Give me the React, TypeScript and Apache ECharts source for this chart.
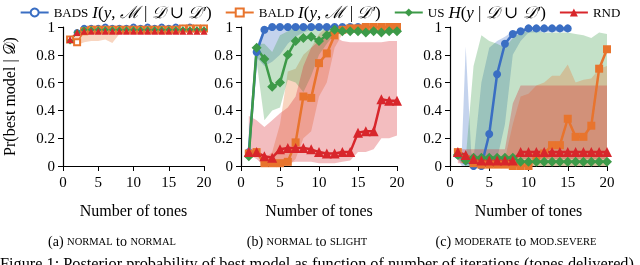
import React, { useEffect, useRef } from 'react';
import * as echarts from 'echarts';

const tones = [1, 2, 3, 4, 5, 6, 7, 8, 9, 10, 11, 12, 13, 14, 15, 16, 17, 18, 19, 20];
const xTicks = [0, 5, 10, 15, 20];
const yTicks = [0, 0.2, 0.4, 0.6, 0.8, 1];

// (a) NORMAL to NORMAL
const aBads = [0.91, 0.96, 0.99, 0.99, 0.99, 1.0, 0.99, 0.99, 0.99, 1.0, 0.99, 1.0, 0.99, 1.0, 0.99, 1.0, 0.99, 1.0, 0.99, 0.99];
const aBald = [0.91, 0.89, 0.97, 0.98, 0.98, 0.98, 0.98, 0.98, 0.98, 0.98, 0.98, 0.98, 0.98, 0.98, 0.98, 0.98, 0.99, 0.99, 0.99, 0.99];
const aUs = [0.9, 0.96, 0.98, 0.98, 0.98, 0.98, 0.98, 0.98, 0.98, 0.98, 0.98, 0.98, 0.98, 0.98, 0.98, 0.98, 0.98, 0.98, 0.98, 0.98];
const aRnd = [0.91, 0.96, 0.97, 0.97, 0.97, 0.97, 0.97, 0.97, 0.97, 0.97, 0.97, 0.97, 0.97, 0.97, 0.97, 0.97, 0.97, 0.97, 0.97, 0.97];
const aBaldBand = [[1, 0.9, 0.93], [2, 0.87, 0.97], [3, 0.89, 1.0], [4, 0.9, 1.0], [5, 0.9, 1.0], [6, 0.91, 1.0], [7, 0.885, 1.0], [8, 0.95, 1.0], [9, 0.97, 1.0], [20, 0.98, 1.0]];

// (b) NORMAL to SLIGHT
const bBads = [0.1, 0.82, 0.98, 1.0, 1.0, 1.0, 1.0, 1.0, 1.0, 1.0, 1.0, 1.0, 1.0, 1.0, 1.0];
const bBald = [0.09, 0.1, 0.02, 0.02, 0.02, 0.03, 0.17, 0.5, 0.49, 0.74, 0.81, 0.94, 0.98, 0.99, 0.99, 1.0, 1.0, 1.0, 1.0, 1.0];
const bUs = [0.07, 0.85, 0.77, 0.57, 0.6, 0.8, 0.9, 0.92, 0.93, 0.9, 0.94, 0.98, 0.97, 0.97, 0.97, 0.96, 0.97, 0.96, 0.97, 0.97];
const bRnd = [0.1, 0.1, 0.07, 0.06, 0.12, 0.13, 0.13, 0.13, 0.12, 0.1, 0.09, 0.09, 0.1, 0.1, 0.24, 0.25, 0.25, 0.48, 0.47, 0.47];
const bBadsBand = [[2, 0.78, 0.86], [3, 0.72, 1.0], [4, 0.75, 1.0], [5, 0.8, 1.0], [6, 0.88, 1.0], [7, 0.93, 1.0], [8, 0.96, 1.0], [9, 0.98, 1.0], [10, 0.99, 1.0]];
const bBaldBand = [[1, 0.08, 0.11], [2, 0.08, 0.11], [3, 0.0, 0.05], [4, 0.0, 0.1], [5, 0.0, 0.3], [6, 0.0, 0.68], [7, 0.05, 0.7], [8, 0.2, 0.8], [9, 0.25, 0.85], [10, 0.5, 0.95], [11, 0.6, 1.0], [12, 0.85, 1.0], [13, 0.95, 1.0]];
const bUsBand = [[1, 0.06, 0.08], [2, 0.75, 0.88], [3, 0.33, 0.88], [4, 0.4, 0.82], [5, 0.42, 0.94], [6, 0.62, 0.97], [7, 0.6, 1.0], [8, 0.53, 1.0], [9, 0.65, 1.0], [10, 0.8, 1.0], [11, 0.88, 1.0], [12, 0.95, 1.0]];
const bRndBand = [[1, 0.08, 0.36], [2, 0.05, 0.33], [3, 0.0, 0.28], [4, 0.0, 0.33], [5, 0.0, 0.38], [6, 0.02, 0.42], [7, 0.03, 0.5], [8, 0.03, 0.72], [9, 0.03, 0.85], [10, 0.02, 0.9], [11, 0.02, 0.93], [12, 0.02, 0.93], [13, 0.03, 0.9], [14, 0.04, 0.89], [15, 0.1, 0.89], [16, 0.1, 0.89], [17, 0.12, 0.89], [18, 0.2, 0.89], [19, 0.2, 0.9], [20, 0.22, 0.9]];

// (c) MODERATE to MOD.SEVERE
const cBads = [0.08, 0.04, 0.0, 0.0, 0.23, 0.66, 0.88, 0.95, 0.97, 0.99, 0.99, 0.99, 0.99, 0.99, 0.99];
const cBald = [0.1, 0.05, 0.02, 0.01, 0.01, 0.01, 0.01, 0.0, 0.0, 0.0, 0.06, 0.09, 0.15, 0.15, 0.34, 0.21, 0.21, 0.29, 0.7, 0.84];
const cUs = [0.08, 0.04, 0.06, 0.06, 0.06, 0.06, 0.06, 0.06, 0.03, 0.03, 0.03, 0.03, 0.03, 0.03, 0.03, 0.03, 0.03, 0.03, 0.03, 0.03];
const cRnd = [0.1, 0.08, 0.05, 0.04, 0.04, 0.04, 0.04, 0.04, 0.1, 0.1, 0.1, 0.1, 0.1, 0.1, 0.1, 0.1, 0.1, 0.1, 0.1, 0.1];
const cBadsBand = [[1, 0.05, 0.1], [1.5, 0.0, 0.1], [2, 0.0, 0.86], [2.7, 0.0, 0.1], [3, 0.0, 0.05], [4, 0.0, 0.6], [5, 0.0, 0.85], [6, 0.05, 0.9], [7, 0.3, 0.93], [8, 0.8, 0.97], [9, 0.9, 0.98], [10, 0.96, 1.0], [15, 0.97, 1.0]];
const cBaldBand = [[7, 0.0, 0.05], [8, 0.0, 0.3], [9, 0.0, 0.5], [10, 0.0, 0.52], [11, 0.0, 0.58], [12, 0.0, 0.6], [13, 0.0, 0.65], [14, 0.0, 0.65], [15, 0.0, 0.73], [16, 0.0, 0.6], [17, 0.0, 0.62], [18, 0.0, 0.63], [19, 0.0, 0.7], [20, 0.0, 0.72]];
const cUsBand = [[1, 0.05, 0.1], [2, 0.0, 0.05], [3, 0.0, 0.72], [4, 0.0, 0.94], [5, 0.0, 0.9], [6, 0.0, 0.88], [7, 0.0, 0.85], [8, 0.0, 0.92], [9, 0.0, 0.96], [10, 0.0, 0.97], [11, 0.0, 0.97], [12, 0.0, 0.96], [13, 0.0, 0.96], [14, 0.0, 0.96], [15, 0.0, 0.96], [16, 0.0, 0.95], [17, 0.0, 0.94], [18, 0.0, 0.92], [19, 0.0, 0.96], [20, 0.0, 0.95]];
const cRndBand = [[1, 0.02, 0.12], [7, 0.02, 0.12], [8, 0.03, 0.45], [9, 0.05, 0.58], [10, 0.05, 0.58], [20, 0.05, 0.58]];

const legendNames = ['BADS', 'BALD', 'US', 'RND'];
const captions = [
  '{n|(a) }{s|NORMAL}{n| to }{s|NORMAL}',
  '{n|(b) }{s|NORMAL}{n| to }{s|SLIGHT}',
  '{n|(c) }{s|MODERATE}{n| to }{s|MOD.SEVERE}',
];
const figureCaption = 'Figure 1: Posterior probability of best model as function of number of iterations (tones delivered)';

const BLUE = '#3A6EC3';
const ORANGE = '#E8742D';
const GREEN = '#3D9A48';
const RED = '#D8262B';
const SERIF = '"Liberation Serif", "DejaVu Serif", serif';

const grids = [
  { left: 62, top: 27, width: 142, height: 139 },
  { left: 241, top: 27, width: 156, height: 139 },
  { left: 450, top: 27, width: 157, height: 139 },
];

function toPairs(vals: number[]) {
  return vals.map((v, i) => [tones[i], v]);
}

function band(data: number[][], gi: number, color: string) {
  return {
    type: 'custom',
    xAxisIndex: gi,
    yAxisIndex: gi,
    silent: true,
    z: 1,
    clip: true,
    data,
    encode: { x: 0, y: [1, 2] },
    renderItem: (params: any, api: any) => {
      if (params.dataIndex !== 0) return null;
      const top = data.map((d) => api.coord([d[0], d[2]]));
      const bot = data.map((d) => api.coord([d[0], d[1]])).reverse();
      return {
        type: 'polygon',
        shape: { points: top.concat(bot) },
        style: { fill: color, stroke: null },
      };
    },
  };
}

function line(name: string, vals: number[], gi: number, color: string, symbol: string, size: number, width: number) {
  return {
    type: 'line',
    name,
    xAxisIndex: gi,
    yAxisIndex: gi,
    data: toPairs(vals),
    symbol,
    symbolSize: size,
    showAllSymbol: true,
    clip: false,
    z: 3,
    lineStyle: { color, width },
    itemStyle: { color, borderColor: color, borderWidth: symbol.startsWith('empty') ? 1.5 : 0 },
  };
}

export default function App() {
  const ref = useRef<HTMLDivElement>(null);
  useEffect(() => {
    if (!ref.current) return;
    const chart = echarts.init(ref.current, null, { renderer: 'svg' });

    const xAxes = grids.map((_, gi) => ({
      type: 'value',
      gridIndex: gi,
      min: xTicks[0],
      max: xTicks[xTicks.length - 1],
      interval: 5,
      name: 'Number of tones',
      nameLocation: 'middle',
      nameGap: 36,
      nameTextStyle: { fontFamily: SERIF, fontSize: 16, color: '#000' },
      axisLine: { show: true, lineStyle: { color: '#000', width: 1.2 } },
      axisTick: { show: true, inside: false, length: 5, lineStyle: { color: '#000', width: 1 } },
      axisLabel: { fontFamily: SERIF, fontSize: 15, color: '#000', margin: 8 },
      splitLine: { show: false },
    }));
    const yAxes = grids.map((_, gi) => ({
      type: 'value',
      gridIndex: gi,
      min: yTicks[0],
      max: yTicks[yTicks.length - 1],
      interval: 0.2,
      name: gi === 0 ? 'Pr(best model | 𝒟)' : '',
      nameLocation: 'middle',
      nameGap: 46,
      nameRotate: 90,
      nameTextStyle: { fontFamily: SERIF, fontSize: 16, color: '#000' },
      axisLine: { show: true, lineStyle: { color: '#000', width: 1.2 } },
      axisTick: { show: true, inside: false, length: 5, lineStyle: { color: '#000', width: 1 } },
      axisLabel: {
        fontFamily: SERIF,
        fontSize: 15,
        color: '#000',
        margin: 8,
        formatter: (v: number) => String(Math.round(v * 10) / 10),
      },
      splitLine: { show: false },
    }));

    const alpha = (c: string) => {
      const r = parseInt(c.slice(1, 3), 16), g = parseInt(c.slice(3, 5), 16), b = parseInt(c.slice(5, 7), 16);
      return `rgba(${r},${g},${b},0.3)`;
    };

    const series: any[] = [
      // (a)
      line('BADS', aBads, 0, BLUE, 'emptyCircle', 5, 1.5),
      line('BALD', aBald, 0, ORANGE, 'emptyRect', 6, 1.5),
      line('US', aUs, 0, GREEN, 'diamond', 7, 1.5),
      line('RND', aRnd, 0, RED, 'triangle', 7, 1.5),
      band(aBaldBand, 0, alpha(ORANGE)),
      // (b)
      band(bBadsBand, 1, alpha(BLUE)),
      band(bBaldBand, 1, alpha(ORANGE)),
      band(bUsBand, 1, alpha(GREEN)),
      band(bRndBand, 1, alpha(RED)),
      line('BADS', bBads, 1, BLUE, 'circle', 8, 2.5),
      line('BALD', bBald, 1, ORANGE, 'rect', 8, 2.5),
      line('US', bUs, 1, GREEN, 'diamond', 10, 2.5),
      line('RND', bRnd, 1, RED, 'triangle', 10, 2.5),
      // (c)
      band(cBadsBand, 2, alpha(BLUE)),
      band(cUsBand, 2, alpha(GREEN)),
      band(cBaldBand, 2, alpha(ORANGE)),
      band(cRndBand, 2, alpha(RED)),
      line('BADS', cBads, 2, BLUE, 'circle', 8, 2.5),
      line('BALD', cBald, 2, ORANGE, 'rect', 8, 2.5),
      line('US', cUs, 2, GREEN, 'diamond', 10, 2.5),
      line('RND', cRnd, 2, RED, 'triangle', 10, 2.5),
    ];

    const legendText: Record<string, string> = {
      BADS: '{s|BADS} {m|I}{n|(}{m|y}{n|, }{m|ℳ}{n| | }{m|𝒟}{n| ∪ }{m|𝒟′}{n|)}',
      BALD: '{s|BALD} {m|I}{n|(}{m|y}{n|, }{m|ℳ}{n| | }{m|𝒟′}{n|)}',
      US: '{s|US} {m|H}{n|(}{m|y}{n| | }{m|𝒟}{n| ∪ }{m|𝒟′}{n|)}',
      RND: '{s|RND}',
    };

    const centers = [112, 307, 516];

    chart.setOption({
      animation: false,
      grid: grids.map((g) => ({ ...g, containLabel: false })),
      xAxis: xAxes,
      yAxis: yAxes,
      legend: {
        data: legendNames,
        top: -1,
        left: 'center',
        itemWidth: 28,
        itemHeight: 10,
        itemGap: 13,
        selectedMode: false,
        formatter: (name: string) => legendText[name],
        textStyle: {
          fontFamily: SERIF,
          fontSize: 16,
          color: '#000',
          rich: {
            s: { fontFamily: SERIF, fontSize: 13, color: '#000', lineHeight: 17 },
            m: { fontFamily: SERIF, fontSize: 17, fontStyle: 'italic', color: '#000', lineHeight: 17 },
            n: { fontFamily: SERIF, fontSize: 17, color: '#000', lineHeight: 17 },
          },
        },
      },
      graphic: [
        ...captions.map((t, i) => ({
          type: 'text',
          x: centers[i],
          y: 241,
          style: {
            text: t,
            textAlign: 'center',
            textVerticalAlign: 'middle',
            fill: '#000',
            rich: {
              n: { fontFamily: SERIF, fontSize: 14, fill: '#000' },
              s: { fontFamily: SERIF, fontSize: 10.5, fill: '#000' },
            },
          },
        })),
        {
          type: 'text',
          x: 0,
          y: 255,
          style: {
            text: figureCaption,
            font: '16.3px "Liberation Serif"',
            fill: '#000',
            textAlign: 'left',
            textVerticalAlign: 'top',
          },
        },
      ],
      series,
    });
    return () => chart.dispose();
  }, []);
  return <div ref={ref} style={{ position: 'fixed', left: 0, top: 0, width: 640, height: 265 }} />;
}
